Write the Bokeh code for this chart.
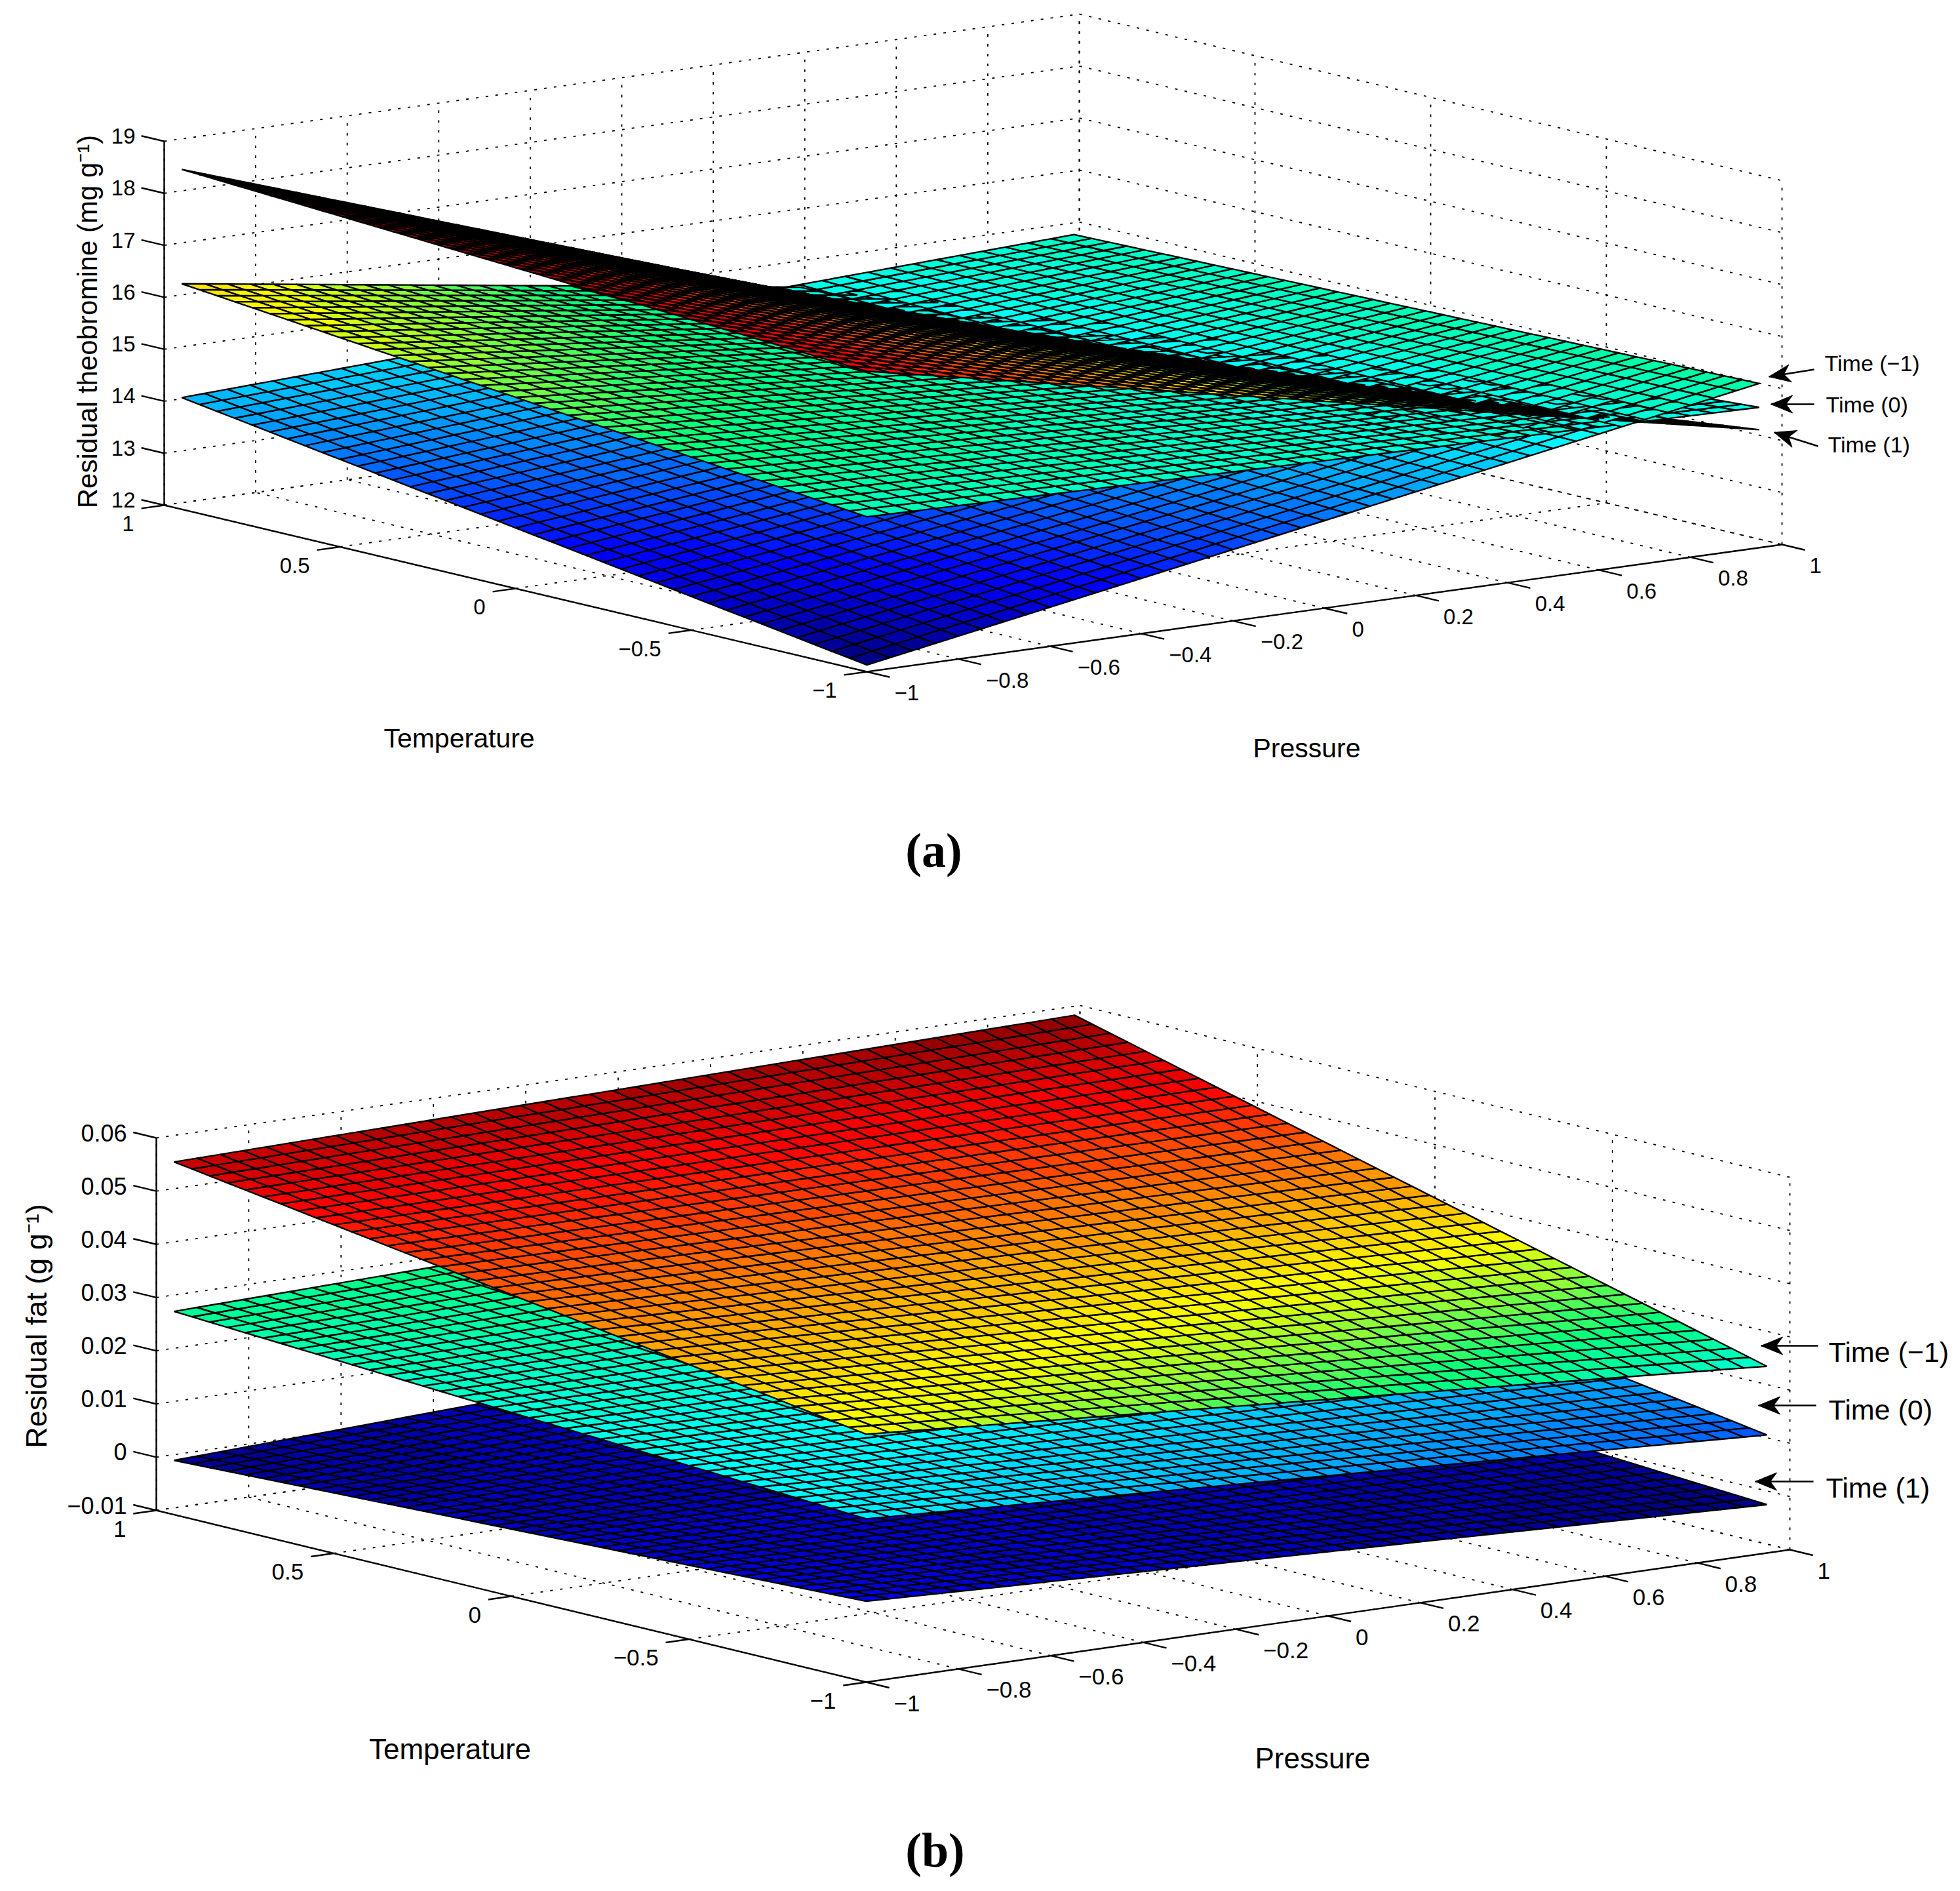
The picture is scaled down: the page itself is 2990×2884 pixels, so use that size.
import math
import numpy as np
from bokeh.plotting import figure
from bokeh.models import Range1d, ColumnDataSource
from bokeh.core.properties import value
from bokeh.embed import file_html
from bokeh.resources import INLINE

# ---- axis ticks ----
TEMP_TICKS = [1, 0.5, 0, -0.5, -1]
PRES_TICKS = [-1, -0.8, -0.6, -0.4, -0.2, 0, 0.2, 0.4, 0.6, 0.8, 1]
TEMP_LABELS = ["1", "0.5", "0", "−0.5", "−1"]
PRES_LABELS = ["−1", "−0.8", "−0.6", "−0.4", "−0.2", "0", "0.2", "0.4", "0.6", "0.8", "1"]
Z_TICKS_A = [12, 13, 14, 15, 16, 17, 18, 19]
Z_LABELS_A = ["12", "13", "14", "15", "16", "17", "18", "19"]
Z_TICKS_B = [-0.01, 0, 0.01, 0.02, 0.03, 0.04, 0.05, 0.06]
Z_LABELS_B = ["−0.01", "0", "0.01", "0.02", "0.03", "0.04", "0.05", "0.06"]

# ---- surface heights read at the four corners of the mesh ----
# order: (T=-1,P=-1), (T=0.95,P=-1), (T=-1,P=0.95), (T=0.95,P=0.95)
THEO_TIME_M1 = [12.13, 14.15, 15.16, 14.90]
THEO_TIME_0 = [14.98, 16.34, 14.70, 13.86]
THEO_TIME_1 = [17.78, 18.54, 14.27, 12.70]
FAT_TIME_M1 = [0.0366, 0.0563, 0.0251, 0.0596]
FAT_TIME_0 = [0.0207, 0.0282, 0.0122, 0.0329]
FAT_TIME_1 = [0.0052, 0.0002, -0.0009, 0.0074]
MESH_T = np.arange(-1, 0.951, 0.05)
MESH_P = np.arange(-1, 0.951, 0.05)

FONT = value("Liberation Sans")
BLACK = "#000000"

# colour map stops as seen in the reference (a jet whose greens keep no red)
STOPS_V = [0, 0.125, 0.375, 0.5, 0.625, 0.875, 1]
STOPS_R = [0, 0, 0, 0, 255, 255, 128]
STOPS_G = [0, 0, 255, 255, 255, 0, 0]
STOPS_B = [128, 255, 255, 128, 0, 0, 0]


def jet(v):
    v = min(max(v, 0.0), 1.0)
    v = (math.floor(v * 63.999) + 0.5) / 64
    return "#%02x%02x%02x" % (int(np.interp(v, STOPS_V, STOPS_R)),
                              int(np.interp(v, STOPS_V, STOPS_G)),
                              int(np.interp(v, STOPS_V, STOPS_B)))


class View:
    """Orthographic view of the plot box, placed on the page."""

    def __init__(self, front, left, right, zpx, zlim):
        self.F = np.array(front, float)
        self.A = np.array(left, float) - self.F
        self.B = np.array(right, float) - self.F
        self.zpx = zpx
        self.z0, self.z1 = zlim
        self.top = zpx / (self.z1 - self.z0)

    def xy(self, t, p, z):
        u = (np.asarray(t, float) + 1) / 2
        v = (np.asarray(p, float) + 1) / 2
        x = self.F[0] + self.A[0] * u + self.B[0] * v
        y = self.F[1] + self.A[1] * u + self.B[1] * v - (np.asarray(z, float) - self.z0) * self.top
        return x, y

    def depth(self, t, p, z):
        # a line of sight keeps x and y constant: the depth grows toward the viewer
        u = (t + 1) / 2
        v = (p + 1) / 2
        w = (z - self.z0) / (self.z1 - self.z0)
        det = self.A[0] * self.B[1] - self.A[1] * self.B[0]
        nu = self.B[0] * self.zpx / det
        nv = -self.A[0] * self.zpx / det
        return u * nu + v * nv + w * (nu * nu + nv * nv + 1)


p = figure(width=2982, height=2876, x_range=Range1d(0, 2982), y_range=Range1d(2876, 0),
           x_axis_type=None, y_axis_type=None, toolbar_location=None,
           output_backend="svg", min_border=0, outline_line_color=None,
           background_fill_color="white", border_fill_color="white")
p.grid.visible = False


def surfaces(view, sets, cmin, cmax):
    xs, ys, cols, ds = [], [], [], []
    for corners in sets:
        zff, zlf, zfr, zlr = corners
        T = MESH_T
        P = MESH_P
        def zval(t, pr):
            a = (t + 1) / 1.95
            b = (pr + 1) / 1.95
            return zff * (1 - a) * (1 - b) + zlf * a * (1 - b) + zfr * (1 - a) * b + zlr * a * b
        for i in range(len(T) - 1):
            for j in range(len(P) - 1):
                ts = [T[i], T[i + 1], T[i + 1], T[i]]
                ps = [P[j], P[j], P[j + 1], P[j + 1]]
                zs = [zval(a, b) for a, b in zip(ts, ps)]
                x, y = view.xy(ts, ps, zs)
                xs.append(list(x))
                ys.append(list(y))
                cols.append(jet((zs[0] - cmin) / (cmax - cmin)))
                ds.append(view.depth(np.mean(ts), np.mean(ps), np.mean(zs)))
    order = np.argsort(ds)
    src = ColumnDataSource(dict(xs=[xs[k] for k in order], ys=[ys[k] for k in order],
                                c=[cols[k] for k in order]))
    p.patches("xs", "ys", source=src, fill_color="c", line_color=BLACK, line_width=2.4)


def box(view, zt):
    z0, z1 = view.z0, view.z1
    segs = []
    for t in TEMP_TICKS:
        segs.append(((t, -1, z0), (t, 1, z0)))
        segs.append(((t, 1, z0), (t, 1, z1)))
    for pr in PRES_TICKS:
        segs.append(((-1, pr, z0), (1, pr, z0)))
        segs.append(((1, pr, z0), (1, pr, z1)))
    for z in zt:
        segs.append(((1, -1, z), (1, 1, z)))
        segs.append(((1, 1, z), (-1, 1, z)))
    xs, ys = [], []
    for a, b in segs:
        x, y = view.xy([a[0], b[0]], [a[1], b[1]], [a[2], b[2]])
        xs.append(list(x))
        ys.append(list(y))
    p.multi_line(xs, ys, line_color=BLACK, line_width=1.8, line_dash="4 11")


def frame(view, zt):
    z0, z1 = view.z0, view.z1
    xs, ys = [], []
    for a, b in [((1, -1, z0), (1, -1, z1)), ((1, -1, z0), (-1, -1, z0)), ((-1, -1, z0), (-1, 1, z0))]:
        x, y = view.xy([a[0], b[0]], [a[1], b[1]], [a[2], b[2]])
        xs.append(list(x))
        ys.append(list(y))
    for z in zt:  # z ticks point away along the temperature direction
        x, y = view.xy([1, 1.065], [-1, -1], [z, z])
        xs.append(list(x)); ys.append(list(y))
    for t in TEMP_TICKS:
        x, y = view.xy([t, t], [-1, -1.05], [z0, z0])
        xs.append(list(x)); ys.append(list(y))
    for pr in PRES_TICKS:
        x, y = view.xy([-1, -1.065], [pr, pr], [z0, z0])
        xs.append(list(x)); ys.append(list(y))
    p.multi_line(xs, ys, line_color=BLACK, line_width=2.4)


def labels(view, zt, zl, tsize, zsize, zright):
    x, y = view.xy([1] * len(zt), [-1] * len(zt), zt)
    p.text([zright] * len(zt), list(y - 8), text=zl, text_align="right", text_baseline="middle",
           text_font=FONT, text_font_size=value(zsize), text_color=BLACK)
    x, y = view.xy(TEMP_TICKS, [-1] * len(TEMP_TICKS), [view.z0] * len(TEMP_TICKS))
    p.text(list(x - 46), list(y + 28), text=TEMP_LABELS, text_align="right", text_baseline="middle",
           text_font=FONT, text_font_size=value(tsize), text_color=BLACK)
    x, y = view.xy([-1] * len(PRES_TICKS), PRES_TICKS, [view.z0] * len(PRES_TICKS))
    p.text(list(x + 42), list(y + 32), text=PRES_LABELS, text_align="left", text_baseline="middle",
           text_font=FONT, text_font_size=value(tsize), text_color=BLACK)


def word(x, y, s, size, align="center", angle=0, baseline="middle", font=FONT, style="normal"):
    p.text([x], [y], text=[s], text_align=align, text_baseline=baseline, angle=angle,
           text_font=font, text_font_size=value(size), text_color=BLACK, text_font_style=style)


def pointer(tail, head, size=33, half=13.5):
    p.line([tail[0], head[0]], [tail[1], head[1]], line_color=BLACK, line_width=2.4)
    dx, dy = tail[0] - head[0], tail[1] - head[1]
    n = math.hypot(dx, dy)
    dx, dy = dx / n, dy / n
    bx, by = head[0] + dx * size, head[1] + dy * size
    nx, ny = -dy, dx
    mx, my = head[0] + dx * size * 0.7, head[1] + dy * size * 0.7
    p.patch([head[0], bx + nx * half, mx, bx - nx * half], [head[1], by + ny * half, my, by - ny * half],
            fill_color=BLACK, line_color=BLACK, line_width=1)


# ---- panel (a) ----
va = View((1322, 1024), (250, 770), (2718, 830), 555, (12, 19))
box(va, Z_TICKS_A)
surfaces(va, [THEO_TIME_M1, THEO_TIME_0, THEO_TIME_1], 12.13, 18.54)
frame(va, Z_TICKS_A)
labels(va, Z_TICKS_A, Z_LABELS_A, "33px", "33px", 206)
word(700, 1125, "Temperature", "41px")
word(1993, 1140, "Pressure", "41px")
word(133, 490, "Residual theobromine (mg g⁻¹)", "42px", angle=math.pi / 2, baseline="alphabetic")
for tail, head, pos, s in [((2767, 563), (2698, 574), (2783, 553), "Time (−1)"),
                           ((2767, 616), (2701, 616), (2785, 616), "Time (0)"),
                           ((2773, 680), (2706, 659), (2788, 677), "Time (1)")]:
    pointer(tail, head)
    word(pos[0], pos[1], s, "34px", align="left")
word(1424, 1296, "(a)", "74px", font=value("Liberation Serif"), style="bold")

# ---- panel (b) ----
vb = View((1321, 2565), (238, 2303), (2730, 2363), 568, (-0.01, 0.06))
box(vb, Z_TICKS_B)
surfaces(vb, [FAT_TIME_M1, FAT_TIME_0, FAT_TIME_1], -0.0009, 0.0600)
frame(vb, Z_TICKS_B)
labels(vb, Z_TICKS_B, Z_LABELS_B, "35px", "36px", 193)
word(686, 2667, "Temperature", "44px")
word(2002, 2681, "Pressure", "44px")
word(55, 2022, "Residual fat (g g⁻¹)", "45px", angle=math.pi / 2, baseline="alphabetic")
for tail, head, pos, s in [((2773, 2052), (2686, 2052), (2789, 2061), "Time (−1)"),
                           ((2770, 2143), (2682, 2143), (2789, 2149), "Time (0)"),
                           ((2766, 2259), (2677, 2259), (2785, 2268), "Time (1)")]:
    pointer(tail, head)
    word(pos[0], pos[1], s, "43px", align="left")
word(1426, 2821, "(b)", "74px", font=value("Liberation Serif"), style="bold")

open("out.html", "w").write(file_html(p, INLINE))
